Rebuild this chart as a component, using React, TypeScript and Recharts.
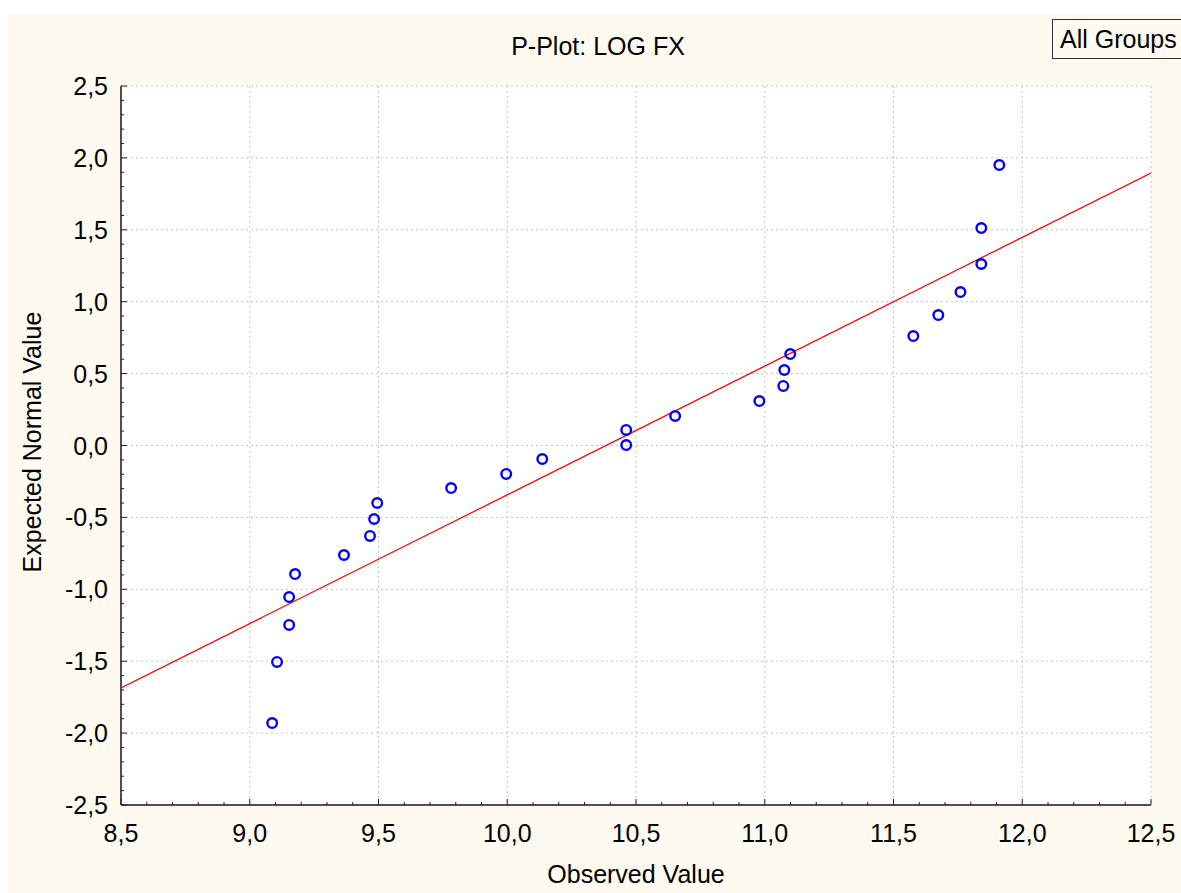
import { ScatterChart, Scatter, XAxis, YAxis, CartesianGrid } from 'recharts';

// observed value (x) vs expected normal value (y)
const observed = [
  9.087, 9.106, 9.153, 9.153, 9.176, 9.366, 9.467, 9.483, 9.495, 9.782, 9.996, 10.136, 10.462,
  10.462, 10.652, 10.979, 11.072, 11.076, 11.099, 11.577, 11.674, 11.76, 11.841, 11.841, 11.911,
];
const expected = [
  -1.93, -1.505, -1.248, -1.054, -0.894, -0.762, -0.629, -0.511, -0.4, -0.296, -0.198, -0.094, 0.003,
  0.108, 0.205, 0.309, 0.414, 0.525, 0.636, 0.761, 0.907, 1.067, 1.262, 1.512, 1.95,
];

// fitted normal line end points
const fitX = [8.5, 12.5];
const fitY = [-1.686, 1.895];

const xMajor = [8.5, 9.0, 9.5, 10.0, 10.5, 11.0, 11.5, 12.0, 12.5];
const yMajor = [-2.5, -2.0, -1.5, -1.0, -0.5, 0.0, 0.5, 1.0, 1.5, 2.0, 2.5];

const xMinor = Array.from({ length: 41 }, (_, i) => (85 + i) / 10);
const yMinor = Array.from({ length: 51 }, (_, i) => (i - 25) / 10);

const points = observed.map((x, i) => ({ x, y: expected[i] }));
const fitLine = fitX.map((x, i) => ({ x, y: fitY[i] }));

const FONT = 'Arial, "Liberation Sans", sans-serif';
const AXIS = '#505050';
const TICK = '#222';
const FS = 25;

const isMajor = (v: number) => Math.abs(v * 2 - Math.round(v * 2)) < 1e-6;
const fmt = (v: number) => v.toFixed(1).replace('.', ',');

function BottomTick({ x, y, payload }: any) {
  const major = isMajor(payload.value);
  return (
    <g>
      <line x1={x} y1={y} x2={x} y2={y - (major ? 6 : 3)} stroke={TICK} />
      {major && (
        <text x={x} y={y + 37} textAnchor="middle" fontSize={FS} fontFamily={FONT} fill="#000">
          {fmt(payload.value)}
        </text>
      )}
    </g>
  );
}

function TopTick({ x, y, payload }: any) {
  const major = isMajor(payload.value);
  return <line x1={x} y1={y} x2={x} y2={y + (major ? 6 : 3)} stroke={TICK} />;
}

function LeftTick({ x, y, payload }: any) {
  const major = isMajor(payload.value);
  return (
    <g>
      <line x1={x} y1={y} x2={x + (major ? 6 : 3)} y2={y} stroke={TICK} />
      {major && (
        <text x={x - 13} y={y} dy="0.36em" textAnchor="end" fontSize={FS} fontFamily={FONT} fill="#000">
          {fmt(payload.value)}
        </text>
      )}
    </g>
  );
}

function RightTick({ x, y, payload }: any) {
  const major = isMajor(payload.value);
  return <line x1={x} y1={y} x2={x - (major ? 6 : 3)} y2={y} stroke={TICK} />;
}

const Ring = ({ cx, cy }: any) => (
  <circle cx={cx} cy={cy} r={4.8} fill="none" stroke="#0000ff" strokeWidth={2.4} />
);

const NoDot = () => <g />;

export default function App() {
  return (
    <div
      style={{
        position: 'fixed',
        left: 7,
        top: 15,
        width: 1174,
        height: 878,
        background: '#fffaf0',
        overflow: 'hidden',
        fontFamily: FONT,
        color: '#000',
      }}
    >
      <ScatterChart width={1174} height={878} margin={{ top: 71, right: 30, bottom: 0, left: 0 }}>
        <CartesianGrid
          fill="#ffffff"
          stroke="#c4c4c4"
          strokeDasharray="2 3"
          horizontalValues={yMajor}
          verticalValues={xMajor}
        />
        <XAxis
          type="number"
          dataKey="x"
          domain={[8.5, 12.5]}
          ticks={xMinor}
          interval={0}
          allowDataOverflow
          height={88}
          tickSize={0}
          tickMargin={0}
          tickLine={false}
          axisLine={{ stroke: AXIS, strokeWidth: 2 }}
          tick={<BottomTick />}
        />
        <XAxis
          xAxisId="top"
          orientation="top"
          type="number"
          dataKey="x"
          domain={[8.5, 12.5]}
          ticks={xMinor}
          interval={0}
          allowDataOverflow
          height={0}
          tickSize={0}
          tickMargin={0}
          tickLine={false}
          axisLine={{ stroke: AXIS, strokeWidth: 2 }}
          tick={<TopTick />}
        />
        <YAxis
          type="number"
          dataKey="y"
          domain={[-2.5, 2.5]}
          ticks={yMinor}
          interval={0}
          allowDataOverflow
          width={114}
          tickSize={0}
          tickMargin={0}
          tickLine={false}
          axisLine={{ stroke: AXIS, strokeWidth: 2 }}
          tick={<LeftTick />}
        />
        <YAxis
          yAxisId="right"
          orientation="right"
          type="number"
          dataKey="y"
          domain={[-2.5, 2.5]}
          ticks={yMinor}
          interval={0}
          allowDataOverflow
          width={0}
          tickSize={0}
          tickMargin={0}
          tickLine={false}
          axisLine={{ stroke: AXIS, strokeWidth: 2 }}
          tick={<RightTick />}
        />
        <Scatter
          data={fitLine}
          xAxisId="top"
          yAxisId="right"
          line={{ stroke: '#ff0000', strokeWidth: 1.2 }}
          shape={<NoDot />}
          isAnimationActive={false}
        />
        <Scatter data={points} shape={<Ring />} isAnimationActive={false} />
      </ScatterChart>

      <div
        style={{
          position: 'absolute',
          left: 591,
          top: 19,
          transform: 'translateX(-50%)',
          fontSize: FS,
          lineHeight: `${FS}px`,
          whiteSpace: 'nowrap',
        }}
      >
        P-Plot: LOG FX
      </div>

      <div
        style={{
          position: 'absolute',
          left: 629,
          top: 847,
          transform: 'translateX(-50%)',
          fontSize: FS,
          lineHeight: `${FS}px`,
          whiteSpace: 'nowrap',
        }}
      >
        Observed Value
      </div>

      <div
        style={{
          position: 'absolute',
          left: 25,
          top: 427,
          transform: 'translate(-50%, -50%) rotate(-90deg)',
          fontSize: FS,
          lineHeight: `${FS}px`,
          whiteSpace: 'nowrap',
        }}
      >
        Expected Normal Value
      </div>

      <div
        style={{
          position: 'absolute',
          left: 1045,
          top: 4,
          width: 150,
          height: 38,
          border: '1px solid #333',
        }}
      >
        <div
          style={{
            position: 'absolute',
            left: 7,
            top: 7,
            fontSize: FS,
            lineHeight: `${FS}px`,
            whiteSpace: 'nowrap',
          }}
        >
          All Groups
        </div>
      </div>
    </div>
  );
}
